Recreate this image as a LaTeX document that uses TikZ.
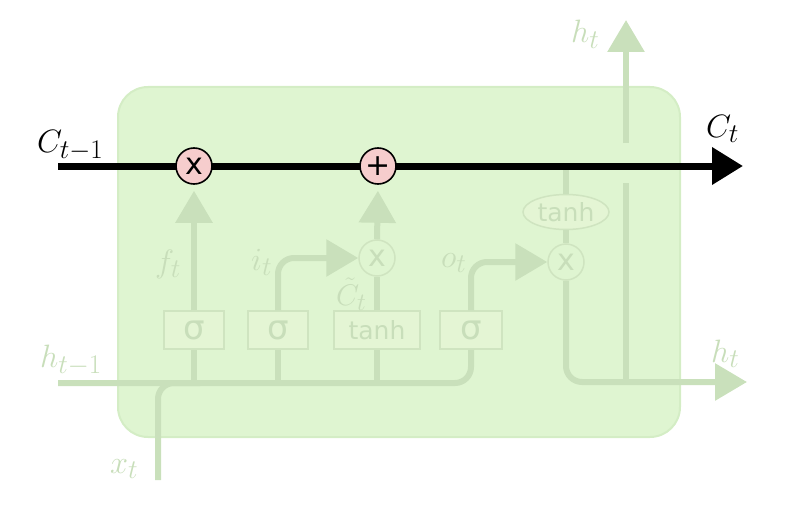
\RequirePackage{fix-cm}
\documentclass[tikz,border=0pt]{standalone}
\usepackage{fontspec}
\newfontfamily\dejavu{DejaVu Sans}
\usetikzlibrary{arrows.meta,shapes.geometric}
\definecolor{cellfill}{RGB}{223,245,209}
\definecolor{cellborder}{RGB}{212,237,197}
\definecolor{fade}{RGB}{201,224,187}
\definecolor{fadetext}{RGB}{200,222,186}
\definecolor{gatefill}{RGB}{228,245,212}
\definecolor{gateborder}{RGB}{207,228,192}
\definecolor{opfill}{RGB}{246,205,205}
\newcommand{\mlab}[1]{\scalebox{1.3}{$#1$}}
\begin{document}
\begin{tikzpicture}[x=1pt,y=-1pt,
  fline/.style={draw=fade,line width=6pt},
  farrow/.style={fline,-{Triangle[length=32pt,width=36pt]}},
  cellbox/.style={draw=cellborder,fill=cellfill,line width=2pt,rounded corners=30pt,minimum width=562pt,minimum height=350pt,inner sep=0pt},
  gate/.style={draw=gateborder,fill=gatefill,line width=1.5pt,minimum height=38pt,inner sep=0pt,text=fadetext,font=\dejavu\fontsize{25}{25}\selectfont},
  sig/.style={font=\dejavu\fontsize{34}{34}\selectfont},
  opnode/.style={circle,draw=black,line width=1.6pt,fill=opfill,minimum size=36pt,inner sep=0pt,font=\dejavu\fontsize{30}{30}\selectfont},
  fop/.style={circle,draw=gateborder,line width=1.5pt,fill=cellfill,minimum size=36pt,inner sep=0pt,text=fadetext,font=\dejavu\fontsize{30}{30}\selectfont},
  blab/.style={anchor=base west,inner sep=0pt,font=\fontsize{24.88}{30}\selectfont},
  flab/.style={blab,text=fadetext},
]
\useasboundingbox (0,0) rectangle (792,508);
% cell body
\node[cellbox] (cell) at (399,262) {};

% gates
\node[gate,sig,minimum width=60pt] (sf) at (194,330) {σ};
\node[gate,sig,minimum width=60pt] (si) at (278,330) {σ};
\node[gate,minimum width=86pt] (tn) at (377,330) {tanh};
\node[gate,sig,minimum width=62pt] (so) at (471,330) {σ};

\node[fop] (imul) at (377,258) {x};
\node[fop] (omul) at (566,262) {x};
\node[ellipse,draw=gateborder,fill=gatefill,line width=1.5pt,minimum width=86pt,minimum height=35pt,inner sep=0pt,text=fadetext,font=\dejavu\fontsize{25}{25}\selectfont] (tanhE) at (566,212) {tanh};

% coordinates
\coordinate (hin) at (58,383);
\coordinate (xin) at (158,480);
\coordinate (xj) at (200,383);
\coordinate (fj) at (194,383);
\coordinate (ij) at (278,383);
\coordinate (tj) at (377,383);
\coordinate (ctap) at (566,166);
\coordinate (hout) at (747,382);
\coordinate (hupA) at (626,382);
\coordinate (hupB) at (626,183);
\coordinate (hupC) at (626,143);
\coordinate (hupD) at (626,20);
\coordinate (cin) at (58,166);
\coordinate (cout) at (743,166);

% faded connectors
\draw[fline,rounded corners=16pt] (hin) -| (so.south);
\draw[fline,rounded corners=16pt] (xin) |- (xj);
\draw[fline] (fj) -- (sf.south);
\draw[fline] (ij) -- (si.south);
\draw[fline] (tj) -- (tn.south);
\draw[farrow,rounded corners=16pt] (si.north) |- (imul.west);
\draw[fline] (tn.north) -- (imul.south);
\draw[farrow,rounded corners=16pt] (so.north) |- (omul.west);
\draw[fline] (ctap) -- (tanhE.north);
\draw[fline] (tanhE.south) -- (omul.north);
\draw[farrow,rounded corners=16pt] (omul.south) |- (hout);
\draw[fline] (hupA) -- (hupB);
\draw[farrow] (hupC) -- (hupD);

% cell state line
\draw[line width=7pt,-{Triangle[length=31pt,width=36pt]}] (cin) -- (cout);
\node[opnode] (fmul) at (194,166) {x};
\node[opnode] (addop) at (378,166) {+};
\draw[farrow,shorten >=6pt] (sf.north) -- (fmul.south);
\draw[farrow,shorten >=6pt] (imul.north) -- (addop.south);

% labels
\node[blab] (lcp) at (37,152) {\mlab{C_{t-1}}};
\node[blab] (lc) at (706,137) {\mlab{C_t}};
\node[flab] (lht1) at (571,43) {\mlab{h_t}};
\node[flab] (lht2) at (711,362) {\mlab{h_t}};
\node[flab] (lhp) at (40,367) {\mlab{h_{t-1}}};
\node[flab] (lx) at (110,473) {\mlab{x_t}};
\node[flab] (lf) at (155,272) {\mlab{f_t}};
\node[flab] (li) at (251,270) {\mlab{i_t}};
\node[flab] (lct) at (336,305) {\scalebox{1.2}{$\tilde{C}_t$}};
\node[flab] (lo) at (441,267) {\mlab{o_t}};
\end{tikzpicture}
\end{document}
